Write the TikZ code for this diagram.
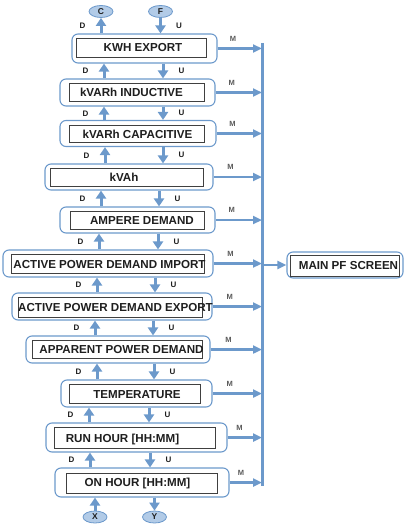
\documentclass[tikz,border=0pt]{standalone}
\usepackage{fontspec}
\setmainfont{Liberation Sans}
\usetikzlibrary{shapes.geometric,arrows.meta}
\definecolor{flowblue}{RGB}{108,153,203}
\definecolor{keyfill}{RGB}{178,203,231}
\definecolor{txtgray}{RGB}{30,30,30}

\begin{document}
\begin{tikzpicture}[x=1pt, y=-1pt,
    every node/.style={text=txtgray, inner sep=0pt},
    screen/.style={draw=flowblue, line width=1.1pt, rounded corners=6pt},
    inframe/.style={draw=black!75, line width=0.8pt},
    scrtext/.style={font=\fontsize{11.6}{12}\selectfont\bfseries, text height=8.3pt, text depth=0pt},
    endkey/.style={ellipse, draw=flowblue, fill=keyfill, line width=0.8pt, minimum width=24pt, minimum height=12pt, font=\fontsize{8.5}{9}\selectfont\bfseries},
    dulabel/.style={font=\fontsize{8}{9}\selectfont\bfseries},
    mlabel/.style={font=\fontsize{7.5}{8}\selectfont\bfseries, text=black!65},
    flow/.style={draw=flowblue, line width=3pt, -{Triangle[length=8pt,width=10pt]}},
    mflow/.style={draw=flowblue, line width=2.7pt, -{Triangle[length=9pt,width=8pt]}}]
    \useasboundingbox (0,0) rectangle (404,524);

    % screens: outer frame, inner frame, caption
    \node[screen, minimum width=145pt, minimum height=29pt] (kwh) at (144.5,48.5) {};
    \node[inframe, minimum width=130pt, minimum height=19pt] (kwh-f) at (141,47.5) {};
    \node[scrtext] (kwh-t) at (143,47.5) {KWH EXPORT};

    \node[screen, minimum width=155pt, minimum height=27pt] (ind) at (137.5,92.5) {};
    \node[inframe, minimum width=135pt, minimum height=18pt] (ind-f) at (136.5,92) {};
    \node[scrtext] (ind-t) at (131.5,92) {kVARh INDUCTIVE};

    \node[screen, minimum width=156pt, minimum height=26pt] (cap) at (138,133.5) {};
    \node[inframe, minimum width=135pt, minimum height=17pt] (cap-f) at (136.5,134) {};
    \node[scrtext] (cap-t) at (137.5,134.5) {kVARh CAPACITIVE};

    \node[screen, minimum width=168pt, minimum height=26pt] (kvah) at (129,177) {};
    \node[inframe, minimum width=153pt, minimum height=18pt] (kvah-f) at (126.5,177) {};
    \node[scrtext] (kvah-t) at (124,177.5) {kVAh};

    \node[screen, minimum width=155pt, minimum height=26pt] (amp) at (137.5,220) {};
    \node[inframe, minimum width=134pt, minimum height=18pt] (amp-f) at (137,220) {};
    \node[scrtext] (amp-t) at (142,220.5) {AMPERE DEMAND};

    \node[screen, minimum width=210pt, minimum height=27pt] (apdi) at (108,263.5) {};
    \node[inframe, minimum width=193pt, minimum height=19pt] (apdi-f) at (107.5,263.5) {};
    \node[scrtext] (apdi-t) at (109.5,264) {ACTIVE POWER DEMAND IMPORT};

    \node[screen, minimum width=200pt, minimum height=27pt] (apde) at (112,306.5) {};
    \node[inframe, minimum width=184pt, minimum height=20pt] (apde-f) at (110,307) {};
    \node[scrtext] (apde-t) at (115.5,307.5) {ACTIVE POWER DEMAND EXPORT};

    \node[screen, minimum width=184pt, minimum height=27pt] (apd) at (118,349.5) {};
    \node[inframe, minimum width=170pt, minimum height=18pt] (apd-f) at (117,349) {};
    \node[scrtext] (apd-t) at (121.5,349) {APPARENT POWER DEMAND};

    \node[screen, minimum width=151pt, minimum height=27pt] (temp) at (136.5,393.5) {};
    \node[inframe, minimum width=131pt, minimum height=19pt] (temp-f) at (134.5,393.5) {};
    \node[scrtext] (temp-t) at (137,394) {TEMPERATURE};

    \node[screen, minimum width=181pt, minimum height=29pt] (run) at (136.5,437.5) {};
    \node[inframe, minimum width=161pt, minimum height=21pt] (run-f) at (134.5,437.5) {};
    \node[scrtext] (run-t) at (122.5,438) {RUN HOUR [HH:MM]};

    \node[screen, minimum width=174pt, minimum height=29pt] (onh) at (142,482.5) {};
    \node[inframe, minimum width=151pt, minimum height=20pt] (onh-f) at (141.5,483) {};
    \node[scrtext] (onh-t) at (137.5,482) {ON HOUR [HH:MM]};

    \node[screen, minimum width=116pt, minimum height=26pt] (mainpf) at (345,265) {};
    \node[inframe, minimum width=109pt, minimum height=21pt] (mainpf-f) at (344.5,265.5) {};
    \node[scrtext] (mainpf-t) at (348.5,265.5) {MAIN PF SCREEN};

    % key ends
    \node[endkey] (C) at (101,11.5) {C};
    \node[endkey] (F) at (160.5,11.5) {F};
    \node[endkey] (X) at (95,517) {X};
    \node[endkey] (Y) at (154.5,517) {Y};

    % bus to main screen
    \coordinate (bus) at (262,43);
    \coordinate (busend) at (262,486);
    \draw[draw=flowblue, line width=3pt] (bus) -- (busend);
    \draw[mflow] (mainpf.west -| bus) -- (mainpf.west);

    % down / up keys
    \draw[flow] (kwh.north -| C) -- (C) node[midway, dulabel, left=14pt] {D};
    \draw[flow] (F) -- (kwh.north -| F) node[midway, dulabel, right=14pt] {U};
    \draw[flow] (ind.north -| 104,0) -- (kwh.south -| 104,0) node[midway, dulabel, left=14pt] {D};
    \draw[flow] (kwh.south -| 163,0) -- (ind.north -| 163,0) node[midway, dulabel, right=14pt] {U};
    \draw[flow] (cap.north -| 104,0) -- (ind.south -| 104,0) node[midway, dulabel, left=14pt] {D};
    \draw[flow] (ind.south -| 163,0) -- (cap.north -| 163,0) node[midway, dulabel, right=14pt] {U};
    \draw[flow] (kvah.north -| 105,0) -- (cap.south -| 105,0) node[midway, dulabel, left=14pt] {D};
    \draw[flow] (cap.south -| 163,0) -- (kvah.north -| 163,0) node[midway, dulabel, right=14pt] {U};
    \draw[flow] (amp.north -| 101,0) -- (kvah.south -| 101,0) node[midway, dulabel, left=14pt] {D};
    \draw[flow] (kvah.south -| 159,0) -- (amp.north -| 159,0) node[midway, dulabel, right=14pt] {U};
    \draw[flow] (apdi.north -| 99,0) -- (amp.south -| 99,0) node[midway, dulabel, left=14pt] {D};
    \draw[flow] (amp.south -| 158,0) -- (apdi.north -| 158,0) node[midway, dulabel, right=14pt] {U};
    \draw[flow] (apde.north -| 97,0) -- (apdi.south -| 97,0) node[midway, dulabel, left=14pt] {D};
    \draw[flow] (apdi.south -| 155,0) -- (apde.north -| 155,0) node[midway, dulabel, right=14pt] {U};
    \draw[flow] (apd.north -| 95,0) -- (apde.south -| 95,0) node[midway, dulabel, left=14pt] {D};
    \draw[flow] (apde.south -| 153,0) -- (apd.north -| 153,0) node[midway, dulabel, right=14pt] {U};
    \draw[flow] (temp.north -| 97,0) -- (apd.south -| 97,0) node[midway, dulabel, left=14pt] {D};
    \draw[flow] (apd.south -| 154,0) -- (temp.north -| 154,0) node[midway, dulabel, right=14pt] {U};
    \draw[flow] (run.north -| 89,0) -- (temp.south -| 89,0) node[midway, dulabel, left=14pt] {D};
    \draw[flow] (temp.south -| 149,0) -- (run.north -| 149,0) node[midway, dulabel, right=14pt] {U};
    \draw[flow] (onh.north -| 90,0) -- (run.south -| 90,0) node[midway, dulabel, left=14pt] {D};
    \draw[flow] (run.south -| 150,0) -- (onh.north -| 150,0) node[midway, dulabel, right=14pt] {U};
    \draw[flow] (X) -- (onh.south -| X);
    \draw[flow] (onh.south -| Y) -- (Y);

    % mode key to bus
    \foreach \s in {kwh,ind,cap,kvah,amp,apdi,apde,apd,temp,run,onh}
        \draw[mflow] (\s.east) -- (\s.east -| bus) node[pos=0.35, above=6pt, mlabel] {M};
\end{tikzpicture}
\end{document}
